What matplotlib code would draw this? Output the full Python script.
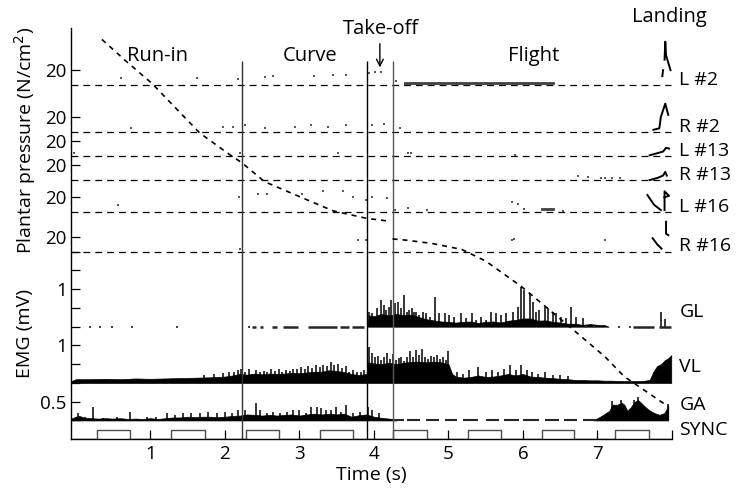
import numpy as np
import matplotlib.pyplot as plt

plt.rcParams['font.family'] = ['Open Sans', 'DejaVu Sans']
plt.rcParams['font.size'] = 14

# ---------------- data (time in s, pressure in N/cm2, EMG in mV) ----------------
p_names = ['L #2', 'R #2', 'L #13', 'R #13', 'L #16', 'R #16']

# scattered low-level pressure samples per insole channel
p_dot_t = [
    [0.61, 1.62, 2.18, 2.54, 2.65, 3.20, 3.45, 3.63, 3.94, 4.02, 4.10, 4.30],
    [0.74, 1.98, 2.11, 2.27, 2.54, 2.94, 3.16, 3.38, 3.63, 3.97, 4.13, 4.35],
    [-0.02, 2.20, 3.52, 4.46, 4.50, 5.89],
    [6.74, 6.87, 7.05, 7.10, 7.19, 7.30],
    [0.57, 2.19, 2.45, 2.56, 3.03, 3.32, 3.58, 3.72, 3.90, 3.97, 4.18, 4.28,
     4.46, 4.71, 5.85, 5.94, 6.02, 6.54],
    [2.20, 3.79, 3.90, 5.85, 5.88, 7.10],
]
p_dot_v = [
    [10, 10, 8, 11, 12, 12, 14, 14, 16, 17, 18, 5],
    [6, 7, 7, 9, 6, 7, 9, 7, 9, 9, 11, 5],
    [4, 4, 4, 4, 4, 2],
    [6, 4, 3, 3, 3, 3],
    [10, 21, 24, 25, 24, 28, 28, 21, 16, 21, 19, 3, 6, 3, 14, 11, 5, 2],
    [4, 15, 15, 16, 17, 15],
]

# landing traces (nan separates strokes)
land_t = [
    [7.87, 7.88, np.nan, 7.90, 7.91, 7.92, 7.95, 7.98],
    [7.75, 7.83, 7.85, 7.91, 7.93, 7.95],
    [7.70, 7.81, 7.88, 7.92, 7.96],
    [7.70, 7.81, 7.88, 7.91, 7.93],
    [7.67, 7.76, 7.85, np.nan, 7.90, 7.90, 7.96, 7.90],
    [7.74, 7.80, 7.86, np.nan, 7.92, 7.92, 7.95],
]
land_v = [
    [12, 20, np.nan, 34, 58, 40, 30, 20],
    [3, 5, 20, 38, 30, 23],
    [1, 4, 6, 11, 10],
    [0, 3, 6, 11, 6],
    [23, 10, 3, np.nan, 3, 28, 22, 20],
    [18, 10, 4, np.nan, 40, 24, 22],
]

# L #2 plateau during flight, L #16 short plateau
l2_flight_t = [4.42, 6.40]
l2_flight_v = [3.5, 3.5]
l16_flat_t = [6.25, 6.40]
l16_flat_v = [4, 4]

# ---- GL ----
gl_t = [3.92, 3.93, 4.00, 4.10, 4.20, 4.30, 4.40, 4.50, 4.60, 4.70,
        4.80, 4.90, 5.00, 5.10, 5.20, 5.30, 5.40, 5.50, 5.60, 5.70, 5.80, 5.90,
        6.00, 6.10, 6.20, 6.30, 6.40, 6.50, 6.60, 6.70, 6.80, 6.90, 7.00, 7.10, 7.15]
gl_h = [0.0, 0.30, 0.28, 0.34, 0.30, 0.34, 0.31, 0.32, 0.26, 0.20,
        0.17, 0.14, 0.13, 0.11, 0.13, 0.14, 0.10, 0.13, 0.14, 0.11, 0.16, 0.18,
        0.22, 0.22, 0.16, 0.17, 0.13, 0.11, 0.08, 0.08, 0.05, 0.07, 0.05, 0.04, 0.0]
gl_spike_t = [3.94, 3.98, 4.04, 4.09, 4.13, 4.16, 4.20, 4.23, 4.28, 4.32, 4.36,
              4.41, 4.44, 4.47, 4.51, 4.54, 4.57, 4.61, 4.66, 4.70, 4.75, 4.82,
              4.88, 4.95, 5.01, 5.08, 5.17, 5.24, 5.31, 5.37, 5.44, 5.51, 5.57,
              5.64, 5.71, 5.77, 5.86, 5.93, 5.97, 6.01, 6.09, 6.14, 6.18, 6.22,
              6.29, 6.33, 6.40, 6.44, 6.51, 6.58, 6.64, 6.71, 6.80, 7.85, 7.90]
gl_spike_h = [0.40, 0.36, 0.49, 0.71, 0.58, 0.45, 0.53, 0.71, 0.62, 0.67, 0.49,
              0.84, 0.40, 0.45, 0.49, 0.38, 0.40, 0.31, 0.40, 0.36, 0.25, 0.78,
              0.36, 0.36, 0.31, 0.27, 0.36, 0.22, 0.36, 0.18, 0.27, 0.18, 0.40,
              0.36, 0.31, 0.36, 0.40, 0.53, 1.05, 0.98, 0.89, 0.67, 0.40, 0.44,
              0.53, 0.49, 0.40, 0.36, 0.27, 0.22, 0.52, 0.27, 0.22, 0.40, 0.20]
gl_dot_t = [0.19, 0.33, 0.49, 0.76, 1.36, 2.33, 6.85, 6.96, 7.29, 7.43]
gl_seg_start = [2.36, 2.47, 2.63, 2.78, 3.11, 3.54, 3.71, 7.47, 7.82]
gl_seg_end = [2.42, 2.51, 2.70, 2.98, 3.50, 3.67, 3.87, 7.76, 7.99]

# ---- VL ----
vl_t = [-0.06, 0.0, 0.2, 0.4, 0.6, 0.8, 1.0, 1.2, 1.4, 1.6, 1.8, 2.0, 2.1, 2.2,
        2.3, 2.4, 2.5, 2.6, 2.7, 2.8, 2.9, 3.0, 3.1, 3.2, 3.3, 3.4, 3.5, 3.6,
        3.7, 3.8, 3.9, 3.92, 4.0, 4.1, 4.2, 4.3, 4.4, 4.5, 4.6, 4.7, 4.8, 4.9,
        5.0, 5.05, 5.1, 5.2, 5.3, 5.4, 5.5, 5.6, 5.7, 5.8, 5.9, 6.0, 6.1, 6.2,
        6.3, 6.4, 6.5, 6.6, 6.7, 6.8, 6.9, 7.0, 7.1, 7.2, 7.3, 7.4, 7.5, 7.6,
        7.7, 7.75, 7.8, 7.85, 7.9, 7.95, 7.99]
vl_h = [0.05, 0.10, 0.10, 0.11, 0.10, 0.12, 0.11, 0.12, 0.13, 0.14, 0.15, 0.17,
        0.20, 0.24, 0.22, 0.25, 0.23, 0.25, 0.24, 0.25, 0.27, 0.26, 0.28, 0.30,
        0.30, 0.34, 0.32, 0.29, 0.24, 0.21, 0.24, 0.55, 0.52, 0.50, 0.54, 0.50,
        0.54, 0.56, 0.57, 0.55, 0.57, 0.55, 0.50, 0.24, 0.17, 0.14, 0.16, 0.20,
        0.16, 0.17, 0.20, 0.24, 0.20, 0.24, 0.17, 0.16, 0.14, 0.13, 0.11, 0.10,
        0.08, 0.08, 0.07, 0.07, 0.06, 0.06, 0.05, 0.05, 0.05, 0.05, 0.08, 0.30,
        0.45, 0.50, 0.60, 0.66, 0.74]
vl_spike_t = [1.72, 1.85, 1.97, 2.05, 2.12, 2.17, 2.22, 2.27, 2.32, 2.37, 2.42,
              2.47, 2.52, 2.57, 2.62, 2.67, 2.72, 2.77, 2.82, 2.87, 2.92, 2.97,
              3.02, 3.07, 3.12, 3.17, 3.22, 3.27, 3.32, 3.37, 3.42, 3.47, 3.52,
              3.57, 3.62, 3.67, 3.72, 3.77, 3.82, 3.87, 3.93, 3.97, 4.01, 4.05,
              4.09, 4.13, 4.17, 4.21, 4.25, 4.29, 4.33, 4.37, 4.41, 4.45, 4.49,
              4.53, 4.57, 4.61, 4.65, 4.69, 4.73, 4.77, 4.81, 4.85, 4.89, 4.93,
              4.97, 5.00, 5.12, 5.20, 5.28, 5.40, 5.50, 5.58, 5.66, 5.75, 5.82,
              5.90, 5.97, 6.05, 6.12, 6.20, 6.30, 6.40, 6.50, 6.60]
vl_spike_h = [0.22, 0.24, 0.26, 0.30, 0.28, 0.35, 0.38, 0.30, 0.36, 0.25, 0.34,
              0.28, 0.33, 0.30, 0.36, 0.32, 0.37, 0.30, 0.35, 0.33, 0.38, 0.36,
              0.42, 0.38, 0.45, 0.40, 0.47, 0.42, 0.48, 0.45, 0.55, 0.48, 0.50,
              0.40, 0.45, 0.30, 0.35, 0.28, 0.30, 0.35, 0.97, 0.80, 0.70, 0.72,
              0.60, 0.68, 0.80, 0.65, 0.78, 0.60, 0.66, 0.70, 0.58, 0.70, 0.85,
              0.70, 0.88, 0.75, 0.90, 0.70, 0.65, 0.72, 0.68, 0.75, 0.65, 0.70,
              0.60, 0.85, 0.30, 0.25, 0.35, 0.42, 0.30, 0.35, 0.30, 0.38, 0.47,
              0.35, 0.47, 0.35, 0.30, 0.25, 0.30, 0.22, 0.20, 0.18]

# ---- GA ----
ga_t = [-0.06, 0.0, 0.05, 0.1, 0.2, 0.3, 0.4, 0.5, 0.6, 0.7, 0.8, 0.9, 1.0,
        1.1, 1.2, 1.3, 1.4, 1.5, 1.6, 1.7, 1.8, 1.9, 2.0, 2.1, 2.2, 2.3, 2.4,
        2.5, 2.6, 2.7, 2.8, 2.9, 3.0, 3.1, 3.2, 3.3, 3.4, 3.5, 3.6, 3.7, 3.8,
        3.9, 4.0, 4.1, 4.2, 4.3]
ga_h = [0.05, 0.10, 0.12, 0.08, 0.06, 0.05, 0.06, 0.05, 0.06, 0.04, 0.05, 0.04,
        0.06, 0.04, 0.06, 0.08, 0.08, 0.10, 0.09, 0.10, 0.10, 0.09, 0.10, 0.12,
        0.13, 0.16, 0.15, 0.13, 0.15, 0.13, 0.15, 0.16, 0.13, 0.16, 0.18, 0.16,
        0.18, 0.16, 0.18, 0.10, 0.14, 0.16, 0.10, 0.07, 0.05, 0.03]
ga_late_t = [6.95, 7.0, 7.07, 7.16, 7.2, 7.27, 7.32, 7.36, 7.4, 7.45, 7.49,
             7.54, 7.58, 7.63, 7.69, 7.76, 7.83, 7.9, 7.95]
ga_late_h = [0.02, 0.06, 0.14, 0.26, 0.42, 0.42, 0.48, 0.42, 0.26, 0.36, 0.48,
             0.55, 0.48, 0.38, 0.28, 0.20, 0.15, 0.20, 0.40]
ga_spike_t = [0.03, 0.12, 0.23, 0.37, 0.55, 0.73, 0.95, 1.08, 1.22, 1.33, 1.44,
              1.55, 1.66, 1.77, 1.89, 2.00, 2.09, 2.18, 2.27, 2.42, 2.47, 2.56,
              2.65, 2.74, 2.83, 2.92, 3.00, 3.09, 3.16, 3.23, 3.29, 3.36, 3.43,
              3.49, 3.56, 3.63, 3.72, 3.81, 3.92, 3.98, 4.07, 7.20, 7.32, 7.49,
              7.54, 7.95]
ga_spike_h = [0.19, 0.10, 0.36, 0.07, 0.10, 0.23, 0.10, 0.10, 0.19, 0.15, 0.19,
              0.19, 0.19, 0.23, 0.19, 0.23, 0.19, 0.28, 0.28, 0.47, 0.28, 0.19,
              0.23, 0.19, 0.23, 0.28, 0.28, 0.19, 0.36, 0.36, 0.32, 0.28, 0.28,
              0.36, 0.23, 0.41, 0.19, 0.23, 0.36, 0.28, 0.19, 0.52, 0.55, 0.55,
              0.62, 0.45]
ga_seg_start = [4.25, 4.45, 4.70, 4.95, 5.20, 5.50, 5.75, 6.00, 6.30, 6.55, 6.80]
ga_seg_end = [4.40, 4.62, 4.88, 5.12, 5.40, 5.68, 5.95, 6.22, 6.48, 6.72, 7.00]

# synchronisation pulses
sync_on = [0.28, 1.28, 2.28, 3.27, 4.26, 5.26, 6.25, 7.24]
sync_off = [0.73, 1.73, 2.73, 3.72, 4.71, 5.70, 6.69, 7.69]
sync_high = 0.25

# phase boundaries and labels
phase_t = [2.23, 3.91, 4.25]
phase_labels = ['Run-in', 'Curve', 'Flight']
phase_label_t = [1.10, 3.14, 6.14]

# schematic dashed curves
curve1_t = [0.35, 0.68, 1.02, 1.66, 2.07, 2.23, 2.53, 3.00, 3.45, 3.90, 4.18]
curve1_y = [10.66, 10.07, 9.49, 8.17, 7.58, 7.37, 6.87, 6.47, 6.09, 5.89, 5.82]
curve2_t = [4.25, 4.42, 4.78, 5.18, 5.50, 5.98, 6.65, 7.10, 7.36, 7.95]
curve2_y = [5.34, 5.31, 5.22, 5.06, 4.75, 4.07, 2.96, 2.20, 1.67, 0.87]

# ---------------- layout ----------------
p_base = [9.44, 8.19, 7.55, 6.91, 6.05, 5.0]
p_scale = 0.4 / 20.0
emg_names = ['GL', 'VL', 'GA']
emg_base = [3.0, 1.5, 0.5]
x0, x1 = -0.065, 7.991

fig = plt.figure(figsize=(7.44, 4.94), dpi=100)
ax = fig.add_axes([71 / 744, (494 - 439.2) / 494, 601 / 744, 411.5 / 494])
ax.set_xlim(x0, x1)
ax.set_ylim(0, 10.973)
for s in ['top', 'right']:
    ax.spines[s].set_visible(False)
ax.spines['left'].set_linewidth(1.0)
ax.spines['bottom'].set_linewidth(1.0)

# pressure channels
for i, base in enumerate(p_base):
    ax.hlines(base, x0, 7.98, colors='k', lw=0.9, linestyles=(0, (5.5, 4.0)))
    ax.plot(p_dot_t[i], base + np.array(p_dot_v[i]) * p_scale, 's',
            ms=1.8, color='0.35', mew=0)
    ax.plot(land_t[i], base + np.array(land_v[i]) * p_scale, color='k', lw=1.4)
    ax.text(8.1, base + 0.14, p_names[i], ha='left', va='center', clip_on=False)

ax.plot(l2_flight_t, p_base[0] + np.array(l2_flight_v) * p_scale, color='0.25', lw=2)
ax.plot(l16_flat_t, p_base[4] + np.array(l16_flat_v) * p_scale, color='0.25', lw=2)

# EMG channels
gb, vb, ab = emg_base
ax.fill_between(gl_t, gb, gb + np.array(gl_h), color='k', lw=0.5)
ax.vlines(gl_spike_t, gb, gb + np.array(gl_spike_h), colors='k', lw=1.1)
ax.plot(gl_dot_t, [gb] * len(gl_dot_t), 's', ms=2, color='0.25', mew=0)
ax.hlines([gb] * len(gl_seg_start), gl_seg_start, gl_seg_end, colors='0.15', lw=1.8)

ax.fill_between(vl_t, vb, vb + np.array(vl_h), color='k', lw=0.5)
ax.vlines(vl_spike_t, vb, vb + np.array(vl_spike_h), colors='k', lw=1.1)

ax.fill_between(ga_t, ab, ab + np.array(ga_h), color='k', lw=0.5)
ax.fill_between(ga_late_t, ab, ab + np.array(ga_late_h), color='k', lw=0.5)
ax.vlines(ga_spike_t, ab, ab + np.array(ga_spike_h), colors='k', lw=1.1)
ax.hlines([ab] * len(ga_seg_start), ga_seg_start, ga_seg_end, colors='0.15', lw=1.5)

for name, base, dy in zip(emg_names, emg_base, [0.4, 0.42, 0.41]):
    ax.text(8.1, base + dy, name, ha='left', va='center', clip_on=False)

# SYNC square wave
sx, sy = [x0], [0]
for a, b in zip(sync_on, sync_off):
    sx += [a, a, b, b]
    sy += [0, sync_high, sync_high, 0]
sx.append(7.98)
sy.append(0)
ax.plot(sx, sy, color='0.3', lw=1.0)
ax.text(8.1, 0.25, 'SYNC', ha='left', va='center', clip_on=False)

# phase boundaries
for t, c in zip(phase_t, ['0.2', 'k', '0.35']):
    ax.vlines(t, 0, 10.09, colors=c, lw=1.0)
for lab, t in zip(phase_labels, phase_label_t):
    ax.text(t, 10.23, lab, ha='center', va='center', fontsize=14.5)
ax.text(4.09, 10.95, 'Take-off', ha='center', va='center', clip_on=False, fontsize=14.5)
ax.annotate('', xy=(4.08, 9.84), xytext=(4.08, 10.62),
            arrowprops=dict(arrowstyle='->', lw=1.0, color='k', mutation_scale=12))
ax.text(7.96, 11.26, 'Landing', ha='center', va='center', clip_on=False, fontsize=14.5)

# schematic dashed curves
ax.plot(curve1_t, curve1_y, color='k', lw=1.2, linestyle=(0, (3, 3)))
ax.plot(curve2_t, curve2_y, color='k', lw=1.2, linestyle=(0, (3, 3)))

# ticks
ax.set_xticks(range(1, 9))
ax.set_xticklabels([str(i) for i in range(1, 8)] + [''])
ptick = [b + 0.4 for b in p_base]
ax.set_yticks(ptick + [4.0, 2.5, 1.0])
ax.set_yticklabels(['20'] * 6 + ['1', '1', '0.5'])
ax.set_yticks([0.5, 1.5, 2.0, 3.0, 3.5, 4.5, 5.0], minor=True)
ax.tick_params(axis='both', which='both', direction='in', length=6.5, width=0.9,
               labelsize=13.5)
ax.tick_params(axis='x', pad=4)
ax.tick_params(axis='y', pad=3)

ax.set_xlabel('Time (s)', labelpad=2)
fig.text(0.034, 0.715, 'Plantar pressure (N/cm$^2$)', rotation=90, ha='center', va='center')
fig.text(0.034, 0.325, 'EMG (mV)', rotation=90, ha='center', va='center')

fig.savefig('out.png', dpi=100)
